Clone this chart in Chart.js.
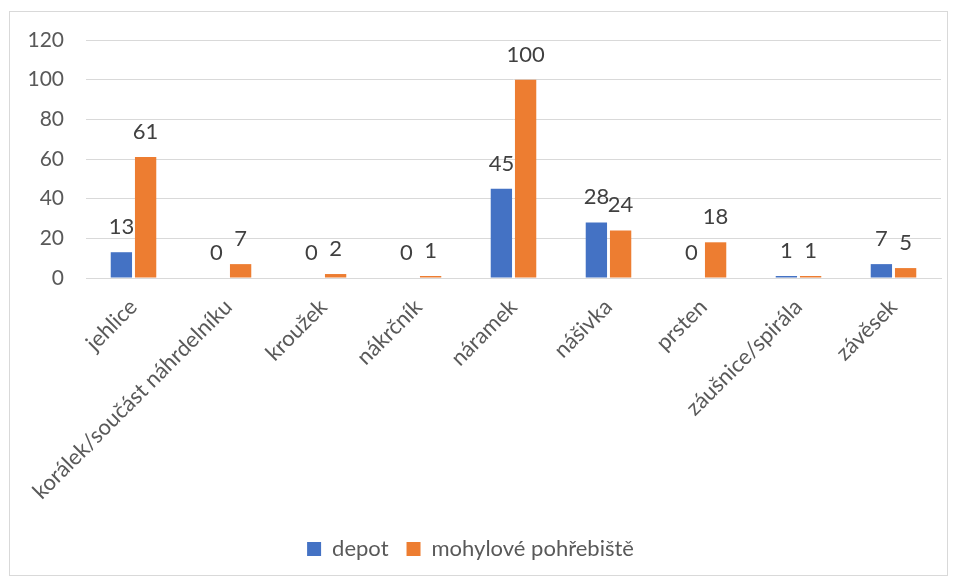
<!DOCTYPE html>
<html>
<head>
<meta charset="utf-8">
<script src="https://cdn.jsdelivr.net/npm/chart.js@4.4.0/dist/chart.umd.min.js"></script>
<style>
    html, body { margin: 0; padding: 0; background: #ffffff; }
    #ramecek {
        position: absolute; left: 9px; top: 11px;
        width: 937px; height: 563px;
        border: 1px solid #d9d9d9;
    }
    #obal { position: absolute; left: 0; top: 0; width: 957px; height: 582px; }
</style>
</head>
<body>
<div id="ramecek"></div>
<div id="obal"><canvas id="graf"></canvas></div>
<script>
const kategorie = ['jehlice', 'korálek/součást náhrdelníku', 'kroužek', 'nákrčník', 'náramek', 'nášivka', 'prsten', 'záušnice/spirála', 'závěsek'];
const depot = [13, 0, 0, 0, 45, 28, 0, 1, 7];
const mohylove = [61, 7, 2, 1, 100, 24, 18, 1, 5];
const osaY = [0, 20, 40, 60, 80, 100, 120];

const pismo = "Lato, 'Open Sans', sans-serif";

// popisky hodnot nad sloupci
const popiskyHodnot = {
    id: 'popiskyHodnot',
    afterDatasetsDraw(chart) {
        const ctx = chart.ctx;
        ctx.save();
        ctx.font = '22px ' + pismo;
        ctx.fillStyle = '#404040';
        ctx.textAlign = 'center';
        ctx.textBaseline = 'alphabetic';
        chart.data.datasets.forEach((ds, i) => {
            chart.getDatasetMeta(i).data.forEach((bar, j) => {
                ctx.fillText(String(ds.data[j]), bar.x, bar.y - 18);
            });
        });
        ctx.restore();
    }
};

new Chart(document.getElementById('graf').getContext('2d'), {
    type: 'bar',
    data: {
        labels: kategorie,
        datasets: [{
            label: 'depot',
            data: depot,
            backgroundColor: '#4472c4',
            barPercentage: 0.88,
            categoryPercentage: 0.51
        }, {
            label: 'mohylové pohřebiště',
            data: mohylove,
            backgroundColor: '#ed7d31',
            barPercentage: 0.88,
            categoryPercentage: 0.51
        }]
    },
    options: {
        responsive: true,
        maintainAspectRatio: false,
        animation: false,
        layout: { padding: { top: 40, right: 16, bottom: 12, left: 0 } },
        plugins: {
            legend: {
                position: 'bottom',
                labels: {
                    font: { family: pismo, size: 22 },
                    color: '#595959',
                    boxWidth: 14,
                    boxHeight: 14,
                    padding: 18
                }
            },
            tooltip: { enabled: false }
        },
        scales: {
            x: {
                grid: { display: false },
                border: { display: true, color: '#d9d9d9' },
                ticks: {
                    font: { family: pismo, size: 22 },
                    color: '#595959',
                    maxRotation: 45,
                    minRotation: 45,
                    autoSkip: false,
                    padding: 8
                },
                afterFit(scale) { scale.height = 242; }
            },
            y: {
                min: 0,
                max: 120,
                afterBuildTicks(scale) { scale.ticks = osaY.map(v => ({ value: v })); },
                grid: { color: '#d9d9d9', drawTicks: false },
                border: { display: false },
                ticks: {
                    font: { family: pismo, size: 21 },
                    color: '#595959',
                    padding: 22
                },
                afterFit(scale) { scale.width = 86; }
            }
        }
    },
    plugins: [popiskyHodnot]
});
</script>
</body>
</html>
